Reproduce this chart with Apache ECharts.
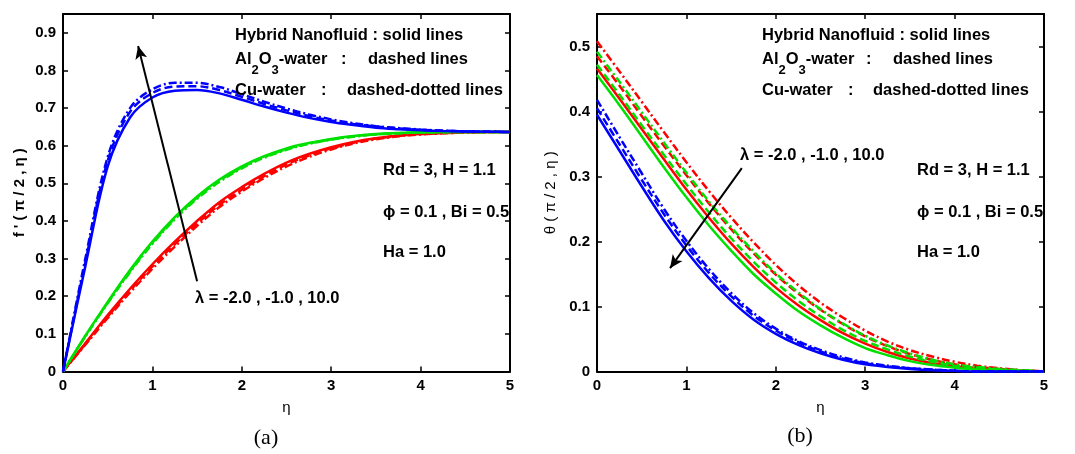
<!DOCTYPE html>
<html>
<head>
<meta charset="utf-8">
<script src="https://cdn.jsdelivr.net/npm/echarts@6/dist/echarts.min.js"></script>
<style>
  html, body { margin: 0; padding: 0; background: #ffffff; }
  #chart { width: 1075px; height: 454px; }
</style>
</head>
<body>
<div id="chart"></div>
<script>
// similarity variable
const eta = [0, 0.25, 0.5, 0.75, 1, 1.25, 1.5, 1.75, 2, 2.25, 2.5, 2.75, 3, 3.25, 3.5, 3.75, 4, 4.25, 4.5, 4.75, 5];

// (a) velocity f'(pi/2, eta); lambda = 10.0 (blue), -1.0 (green), -2.0 (red)
const fpBlueHybrid = [0, 0.28, 0.545, 0.675, 0.728, 0.746, 0.748, 0.739, 0.722, 0.704, 0.688, 0.674, 0.663, 0.655, 0.648, 0.644, 0.641, 0.639, 0.638, 0.637, 0.6366];
const fpBlueAl2O3  = [0, 0.29, 0.56, 0.69, 0.74, 0.757, 0.758, 0.748, 0.73, 0.711, 0.694, 0.679, 0.667, 0.658, 0.651, 0.646, 0.642, 0.64, 0.638, 0.637, 0.6366];
const fpBlueCu     = [0, 0.30, 0.57, 0.70, 0.75, 0.767, 0.767, 0.756, 0.737, 0.717, 0.699, 0.683, 0.67, 0.66, 0.652, 0.647, 0.643, 0.64, 0.638, 0.637, 0.6366];
const fpGreenHybrid = [0, 0.095, 0.185, 0.27, 0.345, 0.41, 0.465, 0.51, 0.545, 0.572, 0.593, 0.607, 0.618, 0.626, 0.631, 0.634, 0.636, 0.6365, 0.6366, 0.6366, 0.6366];
const fpGreenAl2O3  = [0, 0.094, 0.183, 0.267, 0.342, 0.407, 0.462, 0.507, 0.542, 0.57, 0.591, 0.606, 0.617, 0.625, 0.63, 0.633, 0.635, 0.636, 0.6366, 0.6366, 0.6366];
const fpGreenCu     = [0, 0.093, 0.181, 0.264, 0.339, 0.404, 0.459, 0.504, 0.54, 0.568, 0.589, 0.605, 0.616, 0.624, 0.63, 0.633, 0.635, 0.636, 0.6366, 0.6366, 0.6366];
const fpRedHybrid = [0, 0.075, 0.15, 0.22, 0.285, 0.345, 0.40, 0.45, 0.49, 0.525, 0.555, 0.578, 0.596, 0.61, 0.62, 0.627, 0.631, 0.634, 0.6355, 0.6363, 0.6366];
const fpRedAl2O3  = [0, 0.073, 0.146, 0.215, 0.279, 0.338, 0.393, 0.443, 0.483, 0.519, 0.55, 0.574, 0.593, 0.608, 0.619, 0.626, 0.631, 0.634, 0.6355, 0.6363, 0.6366];
const fpRedCu     = [0, 0.071, 0.142, 0.21, 0.273, 0.332, 0.387, 0.437, 0.478, 0.514, 0.545, 0.57, 0.59, 0.606, 0.617, 0.625, 0.63, 0.633, 0.635, 0.636, 0.6366];

// (b) temperature theta(pi/2, eta)
const thBlueHybrid = [0.395, 0.34, 0.285, 0.232, 0.185, 0.144, 0.109, 0.08, 0.058, 0.041, 0.028, 0.018, 0.011, 0.007, 0.004, 0.002, 0.001, 0, 0, 0, 0];
const thBlueAl2O3  = [0.405, 0.35, 0.295, 0.242, 0.194, 0.152, 0.116, 0.086, 0.063, 0.045, 0.031, 0.02, 0.013, 0.008, 0.005, 0.003, 0.001, 0, 0, 0, 0];
const thBlueCu     = [0.418, 0.361, 0.305, 0.25, 0.201, 0.158, 0.121, 0.09, 0.066, 0.047, 0.033, 0.022, 0.014, 0.009, 0.005, 0.003, 0.001, 0, 0, 0, 0];
const thGreenHybrid = [0.456, 0.41, 0.362, 0.314, 0.268, 0.225, 0.186, 0.15, 0.12, 0.093, 0.071, 0.052, 0.036, 0.025, 0.016, 0.01, 0.006, 0.003, 0.002, 0.001, 0];
const thGreenAl2O3  = [0.472, 0.426, 0.379, 0.333, 0.288, 0.245, 0.205, 0.169, 0.137, 0.109, 0.085, 0.064, 0.047, 0.034, 0.023, 0.015, 0.009, 0.006, 0.003, 0.0015, 0];
const thGreenCu     = [0.492, 0.446, 0.399, 0.352, 0.306, 0.262, 0.222, 0.185, 0.151, 0.122, 0.096, 0.074, 0.055, 0.04, 0.028, 0.018, 0.011, 0.007, 0.004, 0.002, 0];
const thRedHybrid = [0.466, 0.42, 0.373, 0.326, 0.28, 0.237, 0.197, 0.161, 0.129, 0.102, 0.079, 0.059, 0.043, 0.03, 0.02, 0.013, 0.008, 0.005, 0.003, 0.001, 0];
const thRedAl2O3  = [0.485, 0.44, 0.393, 0.347, 0.302, 0.259, 0.219, 0.182, 0.149, 0.12, 0.095, 0.073, 0.054, 0.039, 0.027, 0.018, 0.011, 0.007, 0.004, 0.002, 0];
const thRedCu     = [0.508, 0.462, 0.415, 0.368, 0.322, 0.278, 0.237, 0.199, 0.164, 0.133, 0.106, 0.083, 0.063, 0.046, 0.033, 0.023, 0.015, 0.009, 0.005, 0.002, 0];

// arrow end points [eta, value]: tail then head
const arrowA = [[1.5, 0.24], [0.84, 0.865]];
const arrowB = [[1.62, 0.313], [0.817, 0.159]];

const xTicks = { min: 0, max: 5, interval: 1 };
const yTicksA = { min: 0, max: 0.95, interval: 0.1 };
const yTicksB = { min: 0, max: 0.55, interval: 0.1 };

const SANS = '"Liberation Sans", Arial, sans-serif';
const BLUE = '#0000ff', GREEN = '#00e000', RED = '#ff0000';
const STYLES = {
  solid: 'solid',
  dashed: [8, 4],
  dashdot: [8, 3, 2, 3]
};

function pairs(ys) { return eta.map((x, i) => [x, ys[i]]); }

function curve(ys, color, style, idx) {
  return {
    type: 'line',
    xAxisIndex: idx, yAxisIndex: idx,
    data: pairs(ys),
    showSymbol: false,
    smooth: 0.35,
    silent: true,
    lineStyle: { color: color, width: 2.5, type: STYLES[style] }
  };
}

function arrow(pts, idx) {
  return {
    type: 'line', xAxisIndex: idx, yAxisIndex: idx, data: [], z: 10, silent: true,
    markLine: {
      silent: true, animation: false,
      symbol: ['none', 'arrow'], symbolSize: [9, 13],
      lineStyle: { color: '#000', width: 2, type: 'solid' },
      label: { show: false },
      data: [[{ coord: pts[0] }, { coord: pts[1] }]]
    }
  };
}

function baseAxis(extra) {
  return Object.assign({
    type: 'value',
    axisLine: { show: true, onZero: false, lineStyle: { color: '#000', width: 2 } },
    axisTick: { show: true, inside: true, length: 5, lineStyle: { color: '#000', width: 1.5 } },
    splitLine: { show: false },
    axisLabel: { color: '#000', fontFamily: SANS, fontWeight: 'bold', fontSize: 15, margin: 7 }
  }, extra);
}

function xAxes(gi) {
  return [
    baseAxis(Object.assign({ gridIndex: gi, position: 'bottom', name: 'η', nameLocation: 'middle', nameGap: 29,
      nameTextStyle: { color: '#000', fontFamily: SANS, fontSize: 15 } }, xTicks)),
    baseAxis(Object.assign({ gridIndex: gi, position: 'top', axisLabel: { show: false } }, xTicks))
  ];
}

function yAxes(gi, ticks, name, bold, gap) {
  return [
    baseAxis(Object.assign({ gridIndex: gi, position: 'left', name: name, nameLocation: 'middle', nameGap: gap,
      nameTextStyle: { color: '#000', fontFamily: SANS, fontSize: 15, fontWeight: bold ? 'bold' : 'normal' },
      axisLabel: { color: '#000', fontFamily: SANS, fontWeight: 'bold', fontSize: 15, margin: 7, showMaxLabel: false } }, ticks)),
    baseAxis(Object.assign({ gridIndex: gi, position: 'right', axisLabel: { show: false } }, ticks))
  ];
}

const xs = xAxes(0).concat(xAxes(1));
const ys = yAxes(0, yTicksA, "f ' ( π / 2 , η )", true, 36).concat(yAxes(1, yTicksB, 'θ ( π / 2 , η )', false, 39));
// series sit on axes 0 (panel a) and 2 (panel b)
const A = 0, B = 2;

const series = [
  curve(fpRedHybrid, RED, 'solid', A), curve(fpRedAl2O3, RED, 'dashed', A), curve(fpRedCu, RED, 'dashdot', A),
  curve(fpGreenHybrid, GREEN, 'solid', A), curve(fpGreenAl2O3, GREEN, 'dashed', A), curve(fpGreenCu, GREEN, 'dashdot', A),
  curve(fpBlueHybrid, BLUE, 'solid', A), curve(fpBlueAl2O3, BLUE, 'dashed', A), curve(fpBlueCu, BLUE, 'dashdot', A),
  arrow(arrowA, A),
  curve(thRedHybrid, RED, 'solid', B), curve(thRedAl2O3, RED, 'dashed', B), curve(thRedCu, RED, 'dashdot', B),
  curve(thGreenHybrid, GREEN, 'solid', B), curve(thGreenAl2O3, GREEN, 'dashed', B), curve(thGreenCu, GREEN, 'dashdot', B),
  curve(thBlueHybrid, BLUE, 'solid', B), curve(thBlueAl2O3, BLUE, 'dashed', B), curve(thBlueCu, BLUE, 'dashdot', B),
  arrow(arrowB, B)
];

const FONT = 'bold 16.5px ' + SANS;
function label(x, y, text, extra) {
  return {
    type: 'text', x: x, y: y, silent: true, z: 20,
    style: Object.assign({ text: text, font: FONT, fill: '#000', verticalAlign: 'middle', textVerticalAlign: 'middle' }, extra || {})
  };
}
const subRich = { s: { font: 'bold 13px ' + SANS, fill: '#000', padding: [22, 0, 0, 0] } };
function legendBlock(x0, colon1, text1, colon2, text2) {
  return [
    label(x0, 35, 'Hybrid Nanofluid : solid lines'),
    label(x0, 59, 'Al{s|2}O{s|3}-water', { rich: subRich }),
    label(colon1, 59, ':'),
    label(text1, 59, 'dashed lines'),
    label(x0, 90, 'Cu-water'),
    label(colon2, 90, ':'),
    label(text2, 90, 'dashed-dotted lines')
  ];
}
function paramBlock(x0) {
  return [
    label(x0, 170, 'Rd = 3, H = 1.1'),
    label(x0, 212, 'ϕ = 0.1 , Bi = 0.5'),
    label(x0, 252, 'Ha = 1.0')
  ];
}

const graphic = []
  .concat(legendBlock(235, 341, 368, 321, 347))
  .concat(paramBlock(383))
  .concat([label(195, 298, 'λ = -2.0 , -1.0 , 10.0')])
  .concat(legendBlock(762, 866, 893, 848, 873))
  .concat(paramBlock(917))
  .concat([label(740, 155, 'λ = -2.0 , -1.0 , 10.0')])
  .concat([
    label(266, 438, '(a)', { font: '22px "Liberation Serif", "DejaVu Serif", serif', align: 'center', textAlign: 'center' }),
    label(800, 436, '(b)', { font: '22px "Liberation Serif", "DejaVu Serif", serif', align: 'center', textAlign: 'center' })
  ]);

const chart = echarts.init(document.getElementById('chart'), null, { renderer: 'canvas' });
chart.setOption({
  animation: false,
  backgroundColor: '#ffffff',
  grid: [
    { left: 63, top: 14, width: 447, height: 357.5 },
    { left: 597, top: 14, width: 447, height: 357.5 }
  ],
  xAxis: xs,
  yAxis: ys,
  series: series,
  graphic: graphic
});
</script>
</body>
</html>
